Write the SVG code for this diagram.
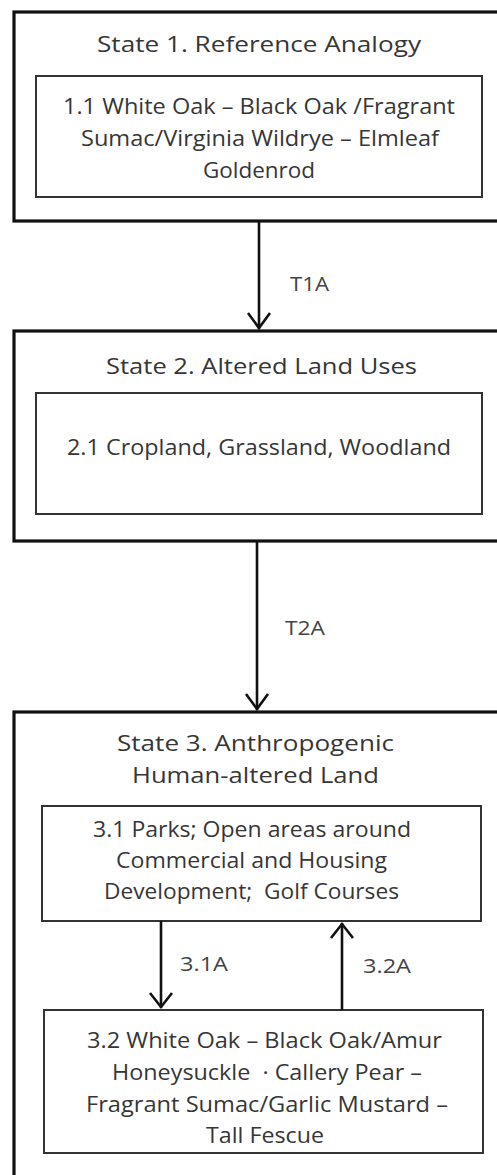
<svg xmlns="http://www.w3.org/2000/svg" width="497" height="1175" viewBox="0 0 497 1175">
<style>
.state{fill:#fff;stroke:#111;stroke-width:3.2}
.sub{fill:#fff;stroke:#333;stroke-width:2}
text{font-family:"Open Sans","Liberation Sans",sans-serif;fill:#363636;text-anchor:middle}
.t{font-size:22.5px}
.b{font-size:22px}
.lbl{font-size:20px;fill:#444}
.conn line,.conn polyline{stroke:#111;stroke-width:2.6;fill:none}
</style>
<rect width="497" height="1175" fill="#fff"/>
<g id="state1">
<rect class="state" x="14" y="12" width="500" height="209"/>
<text class="t" x="259" y="52" textLength="324" lengthAdjust="spacingAndGlyphs">State 1. Reference Analogy</text>
</g>
<g id="node1-1">
<rect class="sub" x="36" y="76" width="446" height="121"/>
<text class="b" x="259" y="114" textLength="392" lengthAdjust="spacingAndGlyphs">1.1 White Oak – Black Oak /Fragrant</text>
<text class="b" x="260" y="146" textLength="358" lengthAdjust="spacingAndGlyphs">Sumac/Virginia Wildrye – Elmleaf</text>
<text class="b" x="259" y="178" textLength="112" lengthAdjust="spacingAndGlyphs">Goldenrod</text>
</g>
<g id="state2">
<rect class="state" x="14" y="331" width="500" height="210"/>
<text class="t" x="261.5" y="374" textLength="311" lengthAdjust="spacingAndGlyphs">State 2. Altered Land Uses</text>
</g>
<g id="node2-1">
<rect class="sub" x="36" y="393" width="446" height="121"/>
<text class="b" x="259" y="455" textLength="384" lengthAdjust="spacingAndGlyphs">2.1 Cropland, Grassland, Woodland</text>
</g>
<g id="state3">
<rect class="state" x="14" y="712" width="500" height="480"/>
<text class="t" x="255.5" y="751" textLength="277" lengthAdjust="spacingAndGlyphs">State 3. Anthropogenic</text>
<text class="t" x="255.5" y="783" textLength="247" lengthAdjust="spacingAndGlyphs">Human-altered Land</text>
</g>
<g id="node3-1">
<rect class="sub" x="42" y="806" width="439" height="115"/>
<text class="b" x="252" y="837" textLength="318" lengthAdjust="spacingAndGlyphs">3.1 Parks; Open areas around</text>
<text class="b" x="251.5" y="868" textLength="271" lengthAdjust="spacingAndGlyphs">Commercial and Housing</text>
<text class="b" x="251.5" y="899" textLength="295" lengthAdjust="spacingAndGlyphs" xml:space="preserve">Development;  Golf Courses</text>
</g>
<g id="node3-2">
<rect class="sub" x="44" y="1010" width="439" height="143"/>
<text class="b" x="264.5" y="1048" textLength="355" lengthAdjust="spacingAndGlyphs">3.2 White Oak – Black Oak/Amur</text>
<text class="b" x="267" y="1080" textLength="310" lengthAdjust="spacingAndGlyphs" xml:space="preserve">Honeysuckle  · Callery Pear –</text>
<text class="b" x="267" y="1112" textLength="362" lengthAdjust="spacingAndGlyphs">Fragrant Sumac/Garlic Mustard –</text>
<text class="b" x="265" y="1143" textLength="118" lengthAdjust="spacingAndGlyphs">Tall Fescue</text>
</g>
<g id="connectors" class="conn">
<line x1="259" y1="221" x2="259" y2="329"/>
<polyline points="248,313 259,328 270,313"/>
<text class="lbl" x="309.5" y="291" textLength="39" lengthAdjust="spacingAndGlyphs">T1A</text>
<line x1="257" y1="541" x2="257" y2="710"/>
<polyline points="246,694 257,709 268,694"/>
<text class="lbl" x="305" y="635" textLength="40" lengthAdjust="spacingAndGlyphs">T2A</text>
<line x1="161" y1="921" x2="161" y2="1008"/>
<polyline points="150,993 161,1007 172,993"/>
<text class="lbl" x="204" y="971" textLength="48" lengthAdjust="spacingAndGlyphs">3.1A</text>
<line x1="342" y1="1010" x2="342" y2="923"/>
<polyline points="331,938 342,924 353,938"/>
<text class="lbl" x="387" y="973" textLength="48" lengthAdjust="spacingAndGlyphs">3.2A</text>
</g>
</svg>
